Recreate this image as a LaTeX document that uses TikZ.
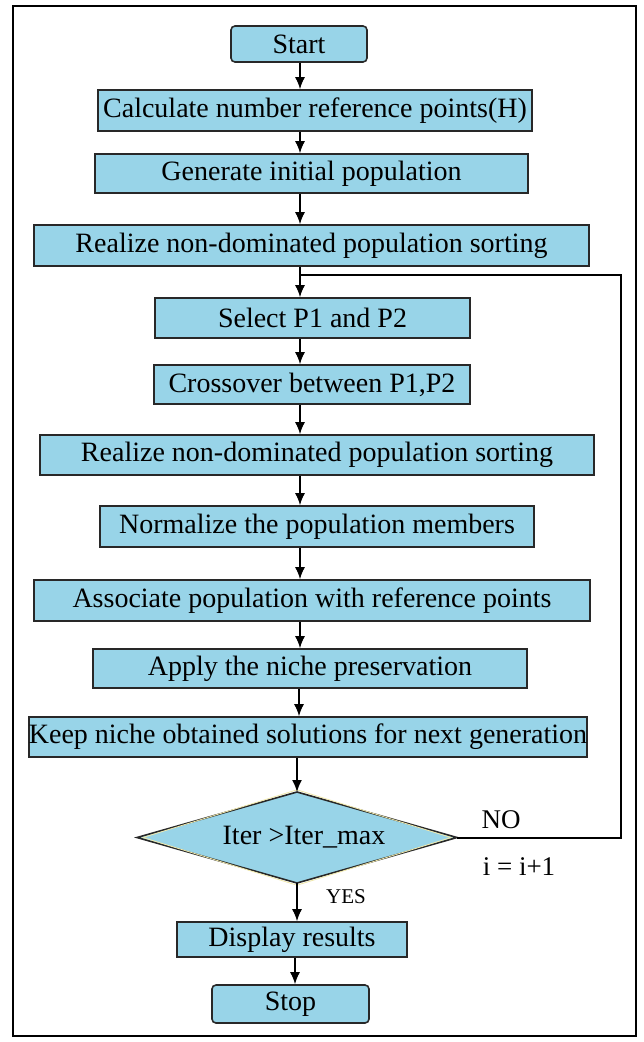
\documentclass[tikz,border=0pt]{standalone}
\usepackage{fontspec}
\setmainfont{Liberation Serif}
\usetikzlibrary{arrows.meta}
\definecolor{boxblue}{RGB}{152,212,232}
\definecolor{edgegray}{RGB}{40,40,40}
\definecolor{creamline}{RGB}{240,232,170}
\begin{document}
\begin{tikzpicture}[x=1pt,y=-1pt,
  stepbox/.style={draw=edgegray,line width=1.6pt,fill=boxblue,inner sep=0pt,
    font=\fontsize{28}{30}\selectfont},
  roundbox/.style={stepbox,rounded corners=4pt},
  flow/.style={line width=1.6pt,-{Latex[length=12pt,width=10pt]}},
  lbl/.style={font=\fontsize{27}{30}\selectfont,inner sep=0pt},
  smalllbl/.style={font=\fontsize{21}{24}\selectfont,inner sep=0pt}]
\useasboundingbox (0,0) rectangle (643,1042);
\fill[white] (0,0) rectangle (643,1042);
\draw[line width=2.5pt] (13,6) rectangle (636,1036);

\node[roundbox,minimum width=136,minimum height=36] (start) at (299,44) {Start};
\node[stepbox,minimum width=434,minimum height=41] (calc) at (315,110.5) {Calculate number reference points(H)};
\node[stepbox,minimum width=433,minimum height=39] (gen) at (311.5,173.5) {Generate initial population};
\node[stepbox,minimum width=555,minimum height=41] (real1) at (311.5,245.5) {Realize non-dominated population sorting};
\node[stepbox,minimum width=315,minimum height=40] (sel) at (312.5,318) {Select P1 and P2};
\node[stepbox,minimum width=316,minimum height=39] (cross) at (312,384.5) {Crossover between P1,P2};
\node[stepbox,minimum width=554,minimum height=40] (real2) at (317,455) {Realize non-dominated population sorting};
\node[stepbox,minimum width=434,minimum height=41] (norm) at (317,526.5) {Normalize the population members};
\node[stepbox,minimum width=556,minimum height=41] (assoc) at (312,600.5) {Associate population with reference points};
\node[stepbox,minimum width=434,minimum height=39] (apply) at (310,668.5) {Apply the niche preservation};
\node[stepbox,minimum width=554,minimum height=40] (keep) at (308,737) {Keep niche obtained solutions for next generation};

% decision diamond
\coordinate (dN) at (297,792);
\coordinate (dS) at (297,883);
\coordinate (dW) at (137,837.5);
\coordinate (dE) at (457,837.5);
\draw[draw=edgegray,line width=1.6pt,fill=boxblue] (dN) -- (dE) -- (dS) -- (dW) -- cycle;
\draw[creamline,line width=0.8pt] ([yshift=2.2pt]dN) -- ([xshift=-6pt]dE) -- ([yshift=-2.2pt]dS) -- ([xshift=6pt]dW) -- cycle;
\node[font=\fontsize{28}{30}\selectfont,inner sep=0pt] (dec) at (304,837.5) {Iter >Iter\_max};

\node[stepbox,minimum width=230,minimum height=35] (disp) at (292,939.5) {Display results};
\node[roundbox,minimum width=157,minimum height=38] (stop) at (290.5,1004) {Stop};

\coordinate (loopR) at (621,275);
\coordinate (loopJ) at (300,275);

\draw[flow] (start.south -| 300,0) -- (300,0 |- calc.north);
\draw[flow] (300,0 |- calc.south) -- (300,0 |- gen.north);
\draw[flow] (300,0 |- gen.south) -- (300,0 |- real1.north);
\draw[flow] (300,0 |- real1.south) -- (300,0 |- sel.north);
\draw[flow] (300,0 |- sel.south) -- (300,0 |- cross.north);
\draw[flow] (300,0 |- cross.south) -- (300,0 |- real2.north);
\draw[flow] (300,0 |- real2.south) -- (300,0 |- norm.north);
\draw[flow] (300,0 |- norm.south) -- (300,0 |- assoc.north);
\draw[flow] (300,0 |- assoc.south) -- (300,0 |- apply.north);
\draw[flow] (299,0 |- apply.south) -- (299,0 |- keep.north);
\draw[flow] (297,0 |- keep.south) -- (dN);
\draw[flow] (dS) -- (297,0 |- disp.north);
\draw[flow] (295,0 |- disp.south) -- (295,0 |- stop.north);

\draw[line width=2pt] (dE) -- (dE -| loopR) -- (loopR) -- (loopJ);

\node[lbl] (no) at (501,820) {NO};
\node[lbl] (inc) at (519,867) {i = i+1};
\node[smalllbl] (yes) at (346,897) {YES};
\end{tikzpicture}
\end{document}
